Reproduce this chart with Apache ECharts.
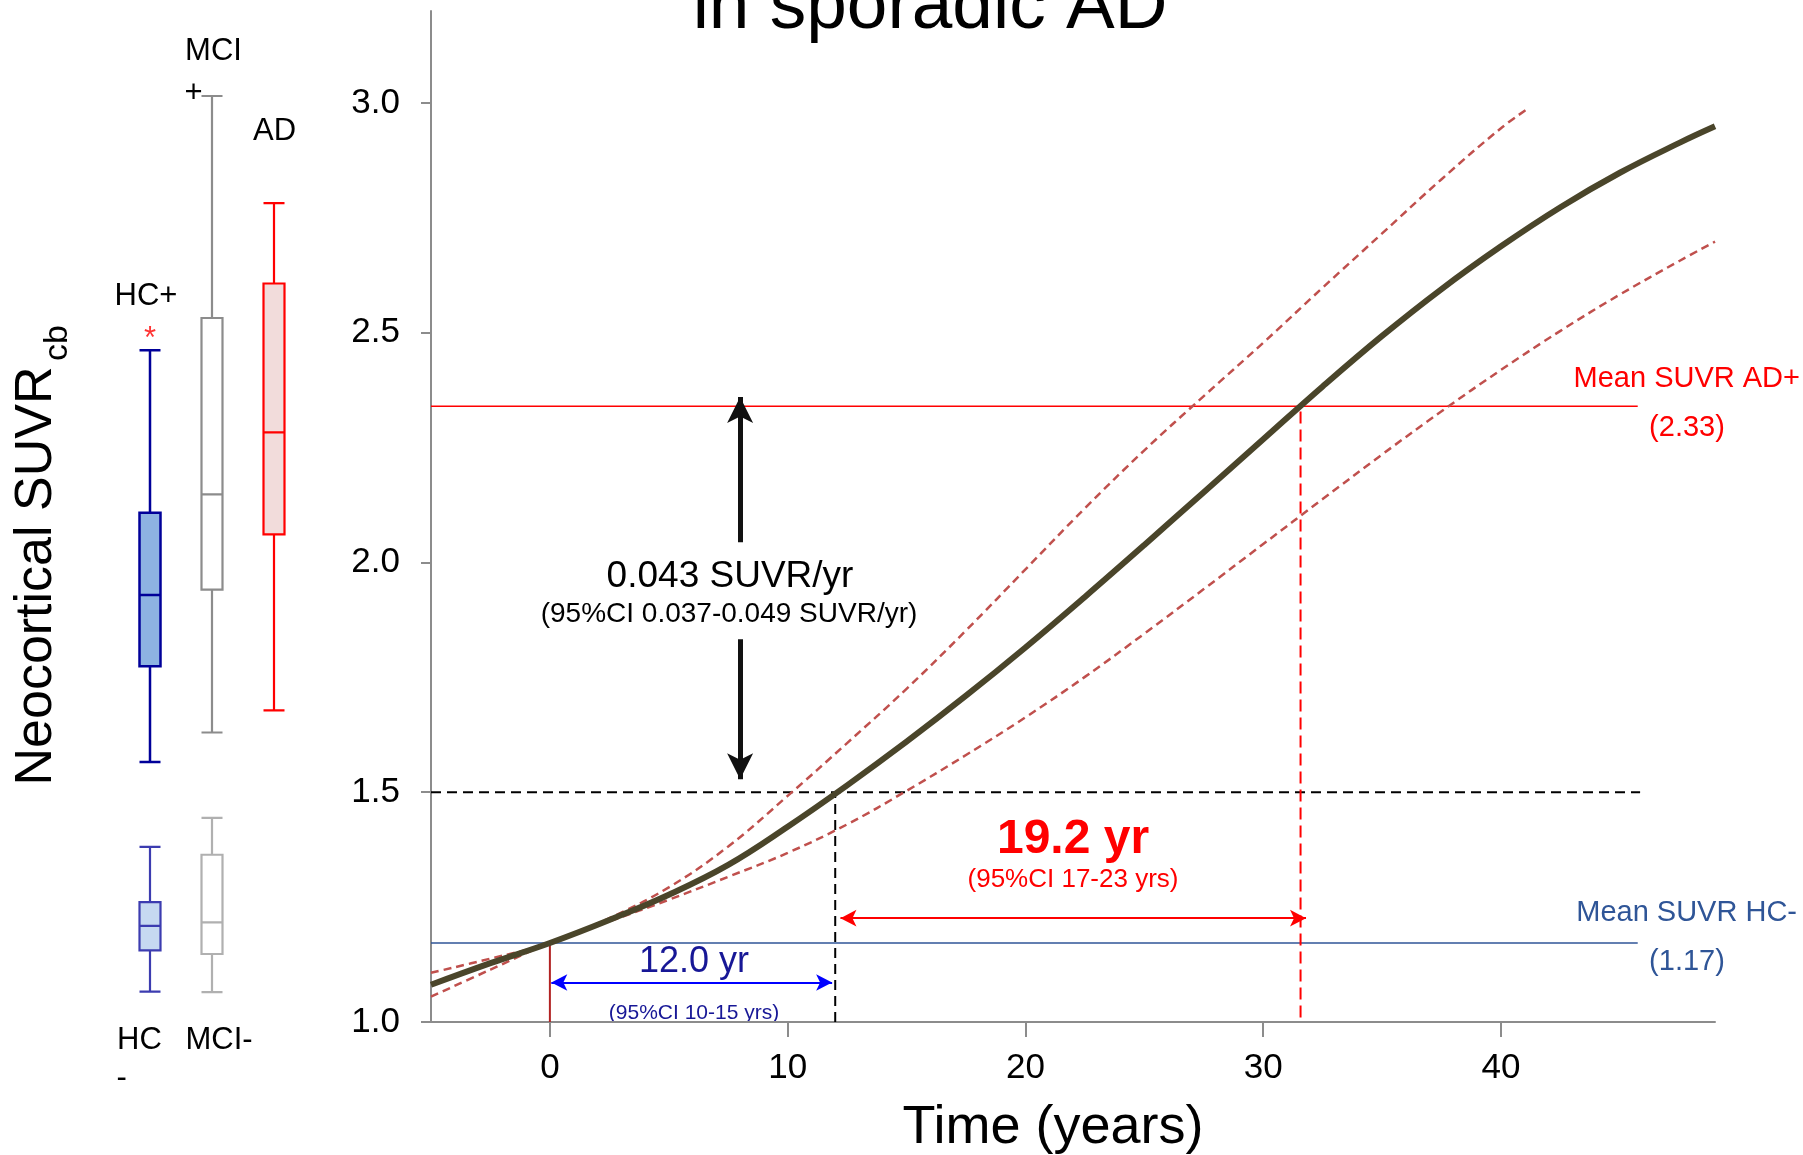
<!DOCTYPE html>
<html>
<head>
<meta charset="utf-8">
<script src="https://cdn.jsdelivr.net/npm/echarts@6/dist/echarts.min.js"></script>
<style>
html, body { margin: 0; padding: 0; background: #fff; }
#main { width: 1803px; height: 1155px; }
</style>
</head>
<body>
<div id="main"></div>
<script>
// fitted SUVR curve (years from mean HC- level)
var fitYears = [-5, -2.5, 0, 2.5, 5, 7.5, 10, 12.5, 15, 17.5, 20, 22.5, 25, 27.5, 30, 32.5, 35, 37.5, 40, 42.5, 45, 47.5, 49];
var fitSuvr = [1.081, 1.128, 1.172, 1.222, 1.277, 1.342, 1.425, 1.515, 1.610, 1.710, 1.815, 1.925, 2.038, 2.153, 2.268, 2.383, 2.493, 2.595, 2.688, 2.773, 2.848, 2.913, 2.949];
// 95% CI bounds
var upperYears = [-5, -2.5, 0, 2.5, 5, 7.5, 10, 12.5, 15, 17.5, 20, 22.5, 25, 27.5, 30, 32.5, 35, 37.5, 40, 41.2];
var upperSuvr = [1.107, 1.138, 1.172, 1.226, 1.293, 1.382, 1.492, 1.607, 1.725, 1.852, 1.985, 2.118, 2.244, 2.362, 2.478, 2.598, 2.716, 2.834, 2.945, 2.990];
var lowerYears = [-5, -2.5, 0, 2.5, 5, 7.5, 10, 12.5, 15, 17.5, 20, 22.5, 25, 27.5, 30, 32.5, 35, 37.5, 40, 42.5, 45, 47.5, 49];
var lowerSuvr = [1.055, 1.114, 1.172, 1.219, 1.266, 1.316, 1.368, 1.430, 1.503, 1.581, 1.663, 1.751, 1.845, 1.942, 2.040, 2.138, 2.235, 2.329, 2.419, 2.504, 2.583, 2.656, 2.698];

// reference levels
var meanAd = 2.34;
var meanHc = 1.172;
var threshold = 1.5;
var refEnd = 45.75;
var yrsToThreshold = 12.0;
var yrsToAd = 31.57;
var rateX = 8;

// axis ticks
var xTicks = [0, 10, 20, 30, 40];
var yTicks = [1.0, 1.5, 2.0, 2.5, 3.0];

// box plots: [min, Q1, median, Q3, max]
var boxGroups = ['HC', 'MCI', 'AD'];
var boxPositive = [
	[1.566, 1.774, 1.929, 2.108, 2.462],
	[1.630, 1.941, 2.148, 2.532, 3.015],
	[1.678, 2.061, 2.283, 2.607, 2.782]
];
var boxNegative = [
	[1.066, 1.156, 1.209, 1.261, 1.381],
	[1.065, 1.148, 1.217, 1.364, 1.444]
];
var hcOutlier = [[0, 2.485]];

var FONT = 'Liberation Sans, Arial, sans-serif';
var AXIS_GRAY = '#8c8c8c';

function pairs(xs, ys) {
	var out = [];
	for (var i = 0; i < xs.length; i++) {
		out.push([xs[i], ys[i]]);
	}
	return out;
}

function plainLine(data, color, width, type, z) {
	return {
		type : 'line',
		xAxisIndex : 0,
		yAxisIndex : 0,
		data : data,
		symbol : 'none',
		silent : true,
		z : z || 2,
		lineStyle : {
			color : color,
			width : width,
			type : type || 'solid'
		}
	};
}

function curveLine(data, color, width, type, z) {
	var s = plainLine(data, color, width, type, z);
	s.smooth = 0.4;
	return s;
}

// arrows drawn as markLine, tip sits on the end coord
function arrowSeries(lines, size, width) {
	return {
		type : 'line',
		xAxisIndex : 0,
		yAxisIndex : 0,
		data : [],
		silent : true,
		z : 5,
		markLine : {
			silent : true,
			animation : false,
			label : { show : false },
			symbol : ['none', 'none'],
			symbolSize : size,
			data : lines.map(function (l) {
				return [
					{ coord : l[0], symbol : l[3] ? 'arrow' : 'none', lineStyle : { color : l[2], width : width, type : 'solid' } },
					{ coord : l[1], symbol : 'arrow' }
				];
			})
		}
	};
}

function txt(text, x, y, size, color, weight, align) {
	return {
		type : 'text',
		x : x,
		y : y,
		silent : true,
		style : {
			text : text,
			fill : color || '#000',
			font : (weight || 'normal') + ' ' + size + 'px ' + FONT,
			textAlign : align || 'center',
			textVerticalAlign : 'middle'
		}
	};
}

var posColors = [
	{ color : '#8db3e2', borderColor : '#000099', borderWidth : 2.5 },
	{ color : '#ffffff', borderColor : '#8c8c8c', borderWidth : 2.2 },
	{ color : '#f2dcdb', borderColor : '#ff0000', borderWidth : 2.2 }
];
var negColors = [
	{ color : '#c6d9f1', borderColor : '#3c3cb0', borderWidth : 2.2 },
	{ color : '#ffffff', borderColor : '#b0b0b0', borderWidth : 2.2 }
];

var option = {
	backgroundColor : '#ffffff',
	animation : false,
	textStyle : { fontFamily : FONT },
	grid : [
		{ left : 431, top : 11, width : 1284, height : 1011 },
		{ left : 119, top : 11, width : 186, height : 1011 }
	],
	xAxis : [ {
		type : 'value',
		gridIndex : 0,
		min : -5,
		max : 49,
		splitLine : { show : false },
		axisLine : { show : true, onZero : false, lineStyle : { color : AXIS_GRAY, width : 2 } },
		axisTick : {
			show : true,
			customValues : xTicks,
			length : 15,
			lineStyle : { color : AXIS_GRAY, width : 2 }
		},
		axisLabel : {
			customValues : xTicks,
			fontSize : 35,
			color : '#000',
			margin : 29,
			fontFamily : FONT
		}
	}, {
		type : 'category',
		gridIndex : 1,
		data : boxGroups,
		show : false
	}, {
		type : 'category',
		gridIndex : 1,
		data : boxGroups,
		show : false
	} ],
	yAxis : [ {
		type : 'value',
		gridIndex : 0,
		min : 1,
		max : 3.2,
		splitLine : { show : false },
		axisLine : { show : true, onZero : false, lineStyle : { color : AXIS_GRAY, width : 2 } },
		axisTick : {
			show : true,
			customValues : yTicks,
			length : 10,
			lineStyle : { color : AXIS_GRAY, width : 2 }
		},
		axisLabel : {
			customValues : yTicks,
			fontSize : 35,
			color : '#000',
			margin : 31,
			fontFamily : FONT,
			formatter : function (v) { return v.toFixed(1); }
		}
	}, {
		type : 'value',
		gridIndex : 1,
		min : 1,
		max : 3.2,
		show : false
	} ],
	series : [
		plainLine([[-5, meanAd], [refEnd, meanAd]], '#ff0000', 1.5),
		plainLine([[-5, meanHc], [refEnd, meanHc]], '#2f5597', 1.5),
		plainLine([[-5, threshold], [refEnd + 0.1, threshold]], '#000000', 2, [10, 6]),
		plainLine([[0, 1], [0, meanHc]], '#b22222', 2),
		plainLine([[yrsToThreshold, 1], [yrsToThreshold, threshold]], '#000000', 2, [10, 6]),
		plainLine([[yrsToAd, 1.01], [yrsToAd, meanAd]], '#ff0000', 2, [12, 6]),
		curveLine(pairs(upperYears, upperSuvr), '#c0504d', 2.5, [8, 5], 3),
		curveLine(pairs(lowerYears, lowerSuvr), '#c0504d', 2.5, [8, 5], 3),
		curveLine(pairs(fitYears, fitSuvr), '#4a452a', 6, 'solid', 4),
		// rate arrow (black, split around the label)
		arrowSeries([
			[[rateX, 2.044], [rateX, 2.360], '#111111', false],
			[[rateX, 1.833], [rateX, 1.528], '#111111', false]
		], [19.5, 26], 5),
		// interval arrows
		arrowSeries([
			[[0.06, 1.086], [11.87, 1.086], '#0000ff', true],
			[[12.22, 1.226], [31.8, 1.226], '#ff0000', true]
		], [12.5, 16], 2),
		{
			type : 'boxplot',
			xAxisIndex : 1,
			yAxisIndex : 1,
			boxWidth : [21, 21],
			silent : true,
			data : boxPositive.map(function (v, i) {
				return { value : v, itemStyle : posColors[i] };
			})
		},
		{
			type : 'boxplot',
			xAxisIndex : 2,
			yAxisIndex : 1,
			boxWidth : [21, 21],
			silent : true,
			data : boxNegative.map(function (v, i) {
				return { value : v, itemStyle : negColors[i] };
			})
		},
		{
			type : 'scatter',
			xAxisIndex : 1,
			yAxisIndex : 1,
			data : hcOutlier,
			symbolSize : 1,
			silent : true,
			itemStyle : { color : 'rgba(0,0,0,0)' },
			label : {
				show : true,
				position : 'inside',
				formatter : '*',
				color : '#ff0000',
				fontSize : 31,
				fontFamily : FONT
			}
		}
	],
	graphic : [
		txt('in sporadic AD', 930, 8, 73),
		txt('Time (years)', 1053, 1128, 54),
		{
			type : 'text',
			x : 37,
			y : 576,
			rotation : Math.PI / 2,
			silent : true,
			style : { text : 'Neocortical SUVR', fill : '#000', font : 'normal 52px ' + FONT, textAlign : 'center', textVerticalAlign : 'middle' }
		},
		{
			type : 'text',
			x : 58,
			y : 343,
			rotation : Math.PI / 2,
			silent : true,
			style : { text : 'cb', fill : '#000', font : 'normal 34px ' + FONT, textAlign : 'center', textVerticalAlign : 'middle' }
		},
		txt('0.043 SUVR/yr', 730, 577, 37),
		txt('(95%CI 0.037-0.049 SUVR/yr)', 729, 614, 28),
		txt('12.0 yr', 694, 962, 36, '#171796'),
		txt('(95%CI 10-15 yrs)', 694, 1013, 21, '#171796'),
		txt('19.2 yr', 1073, 840, 48, '#ff0000', 'bold'),
		txt('(95%CI 17-23 yrs)', 1073, 880, 26, '#ff0000'),
		txt('Mean SUVR AD+', 1800, 379, 29, '#ff0000', 'normal', 'right'),
		txt('(2.33)', 1687, 428, 29, '#ff0000'),
		txt('Mean SUVR HC-', 1797, 913, 29, '#2f5597', 'normal', 'right'),
		txt('(1.17)', 1687, 962, 29, '#2f5597'),
		txt('HC+', 146, 296, 31),
		txt('MCI', 213.5, 51, 31),
		txt('+', 193.6, 93, 31),
		txt('AD', 274.5, 131, 31),
		txt('HC', 139.5, 1040, 31),
		txt('-', 121.7, 1078, 31),
		txt('MCI-', 219, 1040, 31)
	]
};

var myChart = echarts.init(document.getElementById('main'));
myChart.setOption(option, true);
</script>
</body>
</html>
